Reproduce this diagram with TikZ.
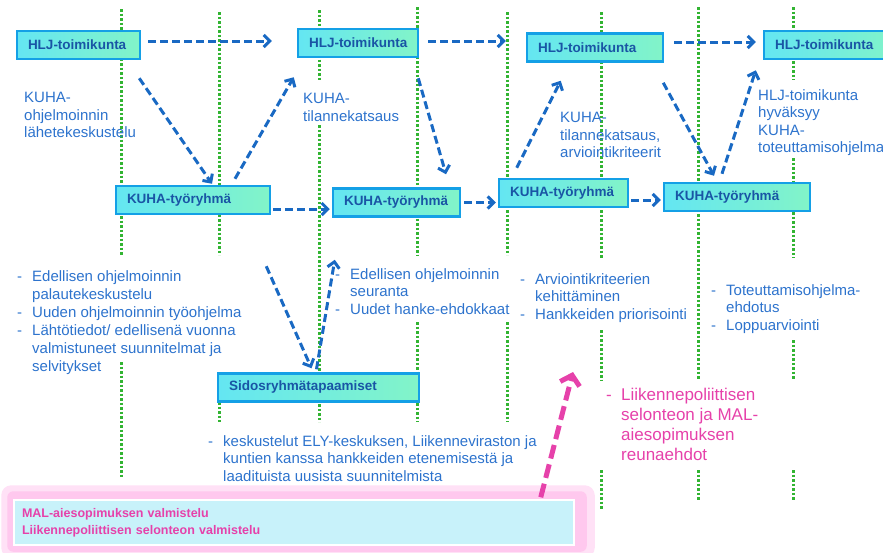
\documentclass[tikz,border=0pt]{standalone}
\usepackage{fontspec}
\setmainfont{Liberation Sans}
\usetikzlibrary{positioning}
\usetikzlibrary{calc}
\usetikzlibrary{backgrounds}
\usetikzlibrary{arrows.meta}
\definecolor{boxline}{RGB}{20,160,230}
\definecolor{boxl}{RGB}{100,230,242}
\definecolor{boxr}{RGB}{130,244,200}
\definecolor{boxtxt}{RGB}{25,85,165}
\definecolor{txtblue}{RGB}{45,115,205}
\definecolor{arrblue}{RGB}{25,105,195}
\definecolor{dotgreen}{RGB}{50,180,50}
\definecolor{pinktxt}{RGB}{230,65,170}
\definecolor{pinkglow}{RGB}{255,200,238}
\definecolor{malfill}{RGB}{200,242,250}
\newcommand{\lid}{\makebox[15pt][l]{-}}
\newcommand{\lii}{\hspace*{15pt}}
\exhyphenpenalty=10000
\begin{document}
\begin{tikzpicture}[x=1pt,y=-1pt,
  box/.style={draw=boxline, line width=2.5pt, left color=boxl, right color=boxr, minimum height=28pt, inner xsep=11pt, align=left, font=\fontsize{13.5}{16}\bfseries, text=boxtxt},
  txt/.style={anchor=north west, inner sep=0pt, align=left, font=\fontsize{15}{17.5}\selectfont, text=txtblue},
  arr/.style={-{Straight Barb[length=6pt,width=12pt]}, draw=arrblue, line width=3pt, dash pattern=on 8pt off 4pt},
  parr/.style={-{Straight Barb[length=9pt,width=20pt]}, draw=pinktxt, line width=5pt, dash pattern=on 14pt off 6pt},
  dots/.style={dotgreen, line width=3pt, dash pattern=on 2.5pt off 2pt}]
\useasboundingbox (0,0) rectangle (883,552);
% time lines
\foreach \x/\ya/\yb in {121/9/255, 121/362/478, 219/12/255, 219/375/422, 319/10/80, 319/125/422, 417/7/255, 417/322/422, 507/12/255, 507/322/422, 601/12/258, 601/330/380, 601/470/510, 698/7/380, 698/470/500, 793/7/80, 793/158/258, 793/340/380, 793/470/500}
  \draw[dots] (\x,\ya) -- (\x,\yb);
\node (h1) at (78.5,45) [box, text width=101pt] {HLJ-toimikunta};
\node (h2) at (358,43) [box, text width=98pt] {HLJ-toimikunta};
\node (h3) at (595,47.5) [box, text width=114pt] {HLJ-toimikunta};
\node (h4) at (832,45) [box, text width=114pt] {HLJ-toimikunta};
\node (k1) at (193,200) [box, text width=132pt] {KUHA-työryhmä};
\node (k2) at (396.5,202.5) [box, text width=105pt] {KUHA-työryhmä};
\node (k3) at (563.5,193) [box, text width=107pt] {KUHA-työryhmä};
\node (k4) at (737,197) [box, text width=124pt] {KUHA-työryhmä};
\node (sid) at (318.5,387.5) [box, text width=179pt] {Sidosryhmätapaamiset};
\node (mal) at (294,522.5) [draw=white, line width=1.5pt, fill=malfill, minimum width=560pt, minimum height=45pt, text width=544pt, inner xsep=8pt, align=left, font=\fontsize{12.5}{17}\bfseries, text=pinktxt] {MAL-aiesopimuksen valmistelu\\Liikennepoliittisen selonteon valmistelu};
\begin{scope}[on background layer]
\fill[pinkglow!55, rounded corners=10pt] ($(mal.north west)+(-12,-14)$) rectangle ($(mal.south east)+(20,12)$);
\fill[pinkglow, rounded corners=6pt] ($(mal.north west)+(-6,-8)$) rectangle ($(mal.south east)+(12,6)$);
\end{scope}
\node (ta) at (24,92) [txt] {KUHA-\\ohjelmoinnin\\lähetekeskustelu};
\node (tb) at (303,93) [txt] {KUHA-\\tilannekatsaus};
\node (tc) at (560,112) [txt] {KUHA-\\tilannekatsaus,\\arviointikriteerit};
\node (td) at (758,89) [txt] {HLJ-toimikunta\\hyväksyy\\KUHA-\\toteuttamisohjelman};
\node (la) at (17,270) [txt, font=\fontsize{15}{18}\selectfont] {\lid Edellisen ohjelmoinnin\\\lii palautekeskustelu\\\lid Uuden ohjelmoinnin työohjelma\\\lid Lähtötiedot/ edellisenä vuonna\\\lii valmistuneet suunnitelmat ja\\\lii selvitykset};
\node (lb) at (335,268) [txt] {\lid Edellisen ohjelmoinnin\\\lii seuranta\\\lid Uudet hanke-ehdokkaat};
\node (lc) at (520,273) [txt] {\lid Arviointikriteerien\\\lii kehittäminen\\\lid Hankkeiden priorisointi};
\node (ld) at (711,284) [txt] {\lid Toteuttamisohjelma-\\\lii ehdotus\\\lid Loppuarviointi};
\node (le) at (208,435) [txt] {\lid keskustelut ELY-keskuksen, Liikenneviraston ja\\\lii kuntien kanssa hankkeiden etenemisestä ja\\\lii laadituista uusista suunnitelmista};
\node (lf) at (606,388) [txt, text=pinktxt, font=\fontsize{17}{20}\selectfont] {\lid Liikennepoliittisen\\\lii selonteon ja MAL-\\\lii aiesopimuksen\\\lii reunaehdot};
\draw[arr] ($(h1.east)+(7,-4)$) -- ($(h2.west)+(-25,-2)$);
\draw[arr] ($(h2.east)+(9,-2)$) -- ($(h3.west)+(-20,-6.5)$);
\draw[arr] ($(h3.east)+(10,-5.5)$) -- ($(h4.west)+(-7,-3)$);
\draw[arr] ($(h1.south east)+(-2,18)$) -- ($(k1.north)+(19,-1)$);
\draw[arr] ($(k1.north)+(42,-6)$) -- ($(h2.south west)+(-3,19)$);
\draw[arr] ($(h2.south east)+(-1,20)$) -- ($(k2.north)+(49.5,-13)$);
\draw[arr] ($(k3.north west)+(19,-10)$) -- ($(h3.south west)+(35,18)$);
\draw[arr] ($(h3.south east)+(-1,20)$) -- ($(k4.north)+(-23,-6)$);
\draw[arr] ($(k4.north)+(-15,-8)$) -- ($(h4.south west)+(-7,10)$);
\draw[arr] ($(k1.east)+(2,9)$) -- ($(k2.west)+(-2,6.5)$);
\draw[arr] ($(k2.east)+(3,0)$) -- ($(k2.east -| k3.west)+(-2,0)$);
\draw[arr] ($(k3.east)+(2,7)$) -- ($(k4.west)+(-2,3)$);
\draw[arr] ($(k1.south east)+(-5,51)$) -- ($(sid.north)+(-7,-4)$);
\draw[arr] ($(sid.north)+(-2,-3)$) -- ($(k2.south west)+(3,42)$);
\coordinate (pk) at (573,372);
\draw[parr] ($(mal.north east)+(-34,-2)$) -- (pk);
\end{tikzpicture}
\end{document}
